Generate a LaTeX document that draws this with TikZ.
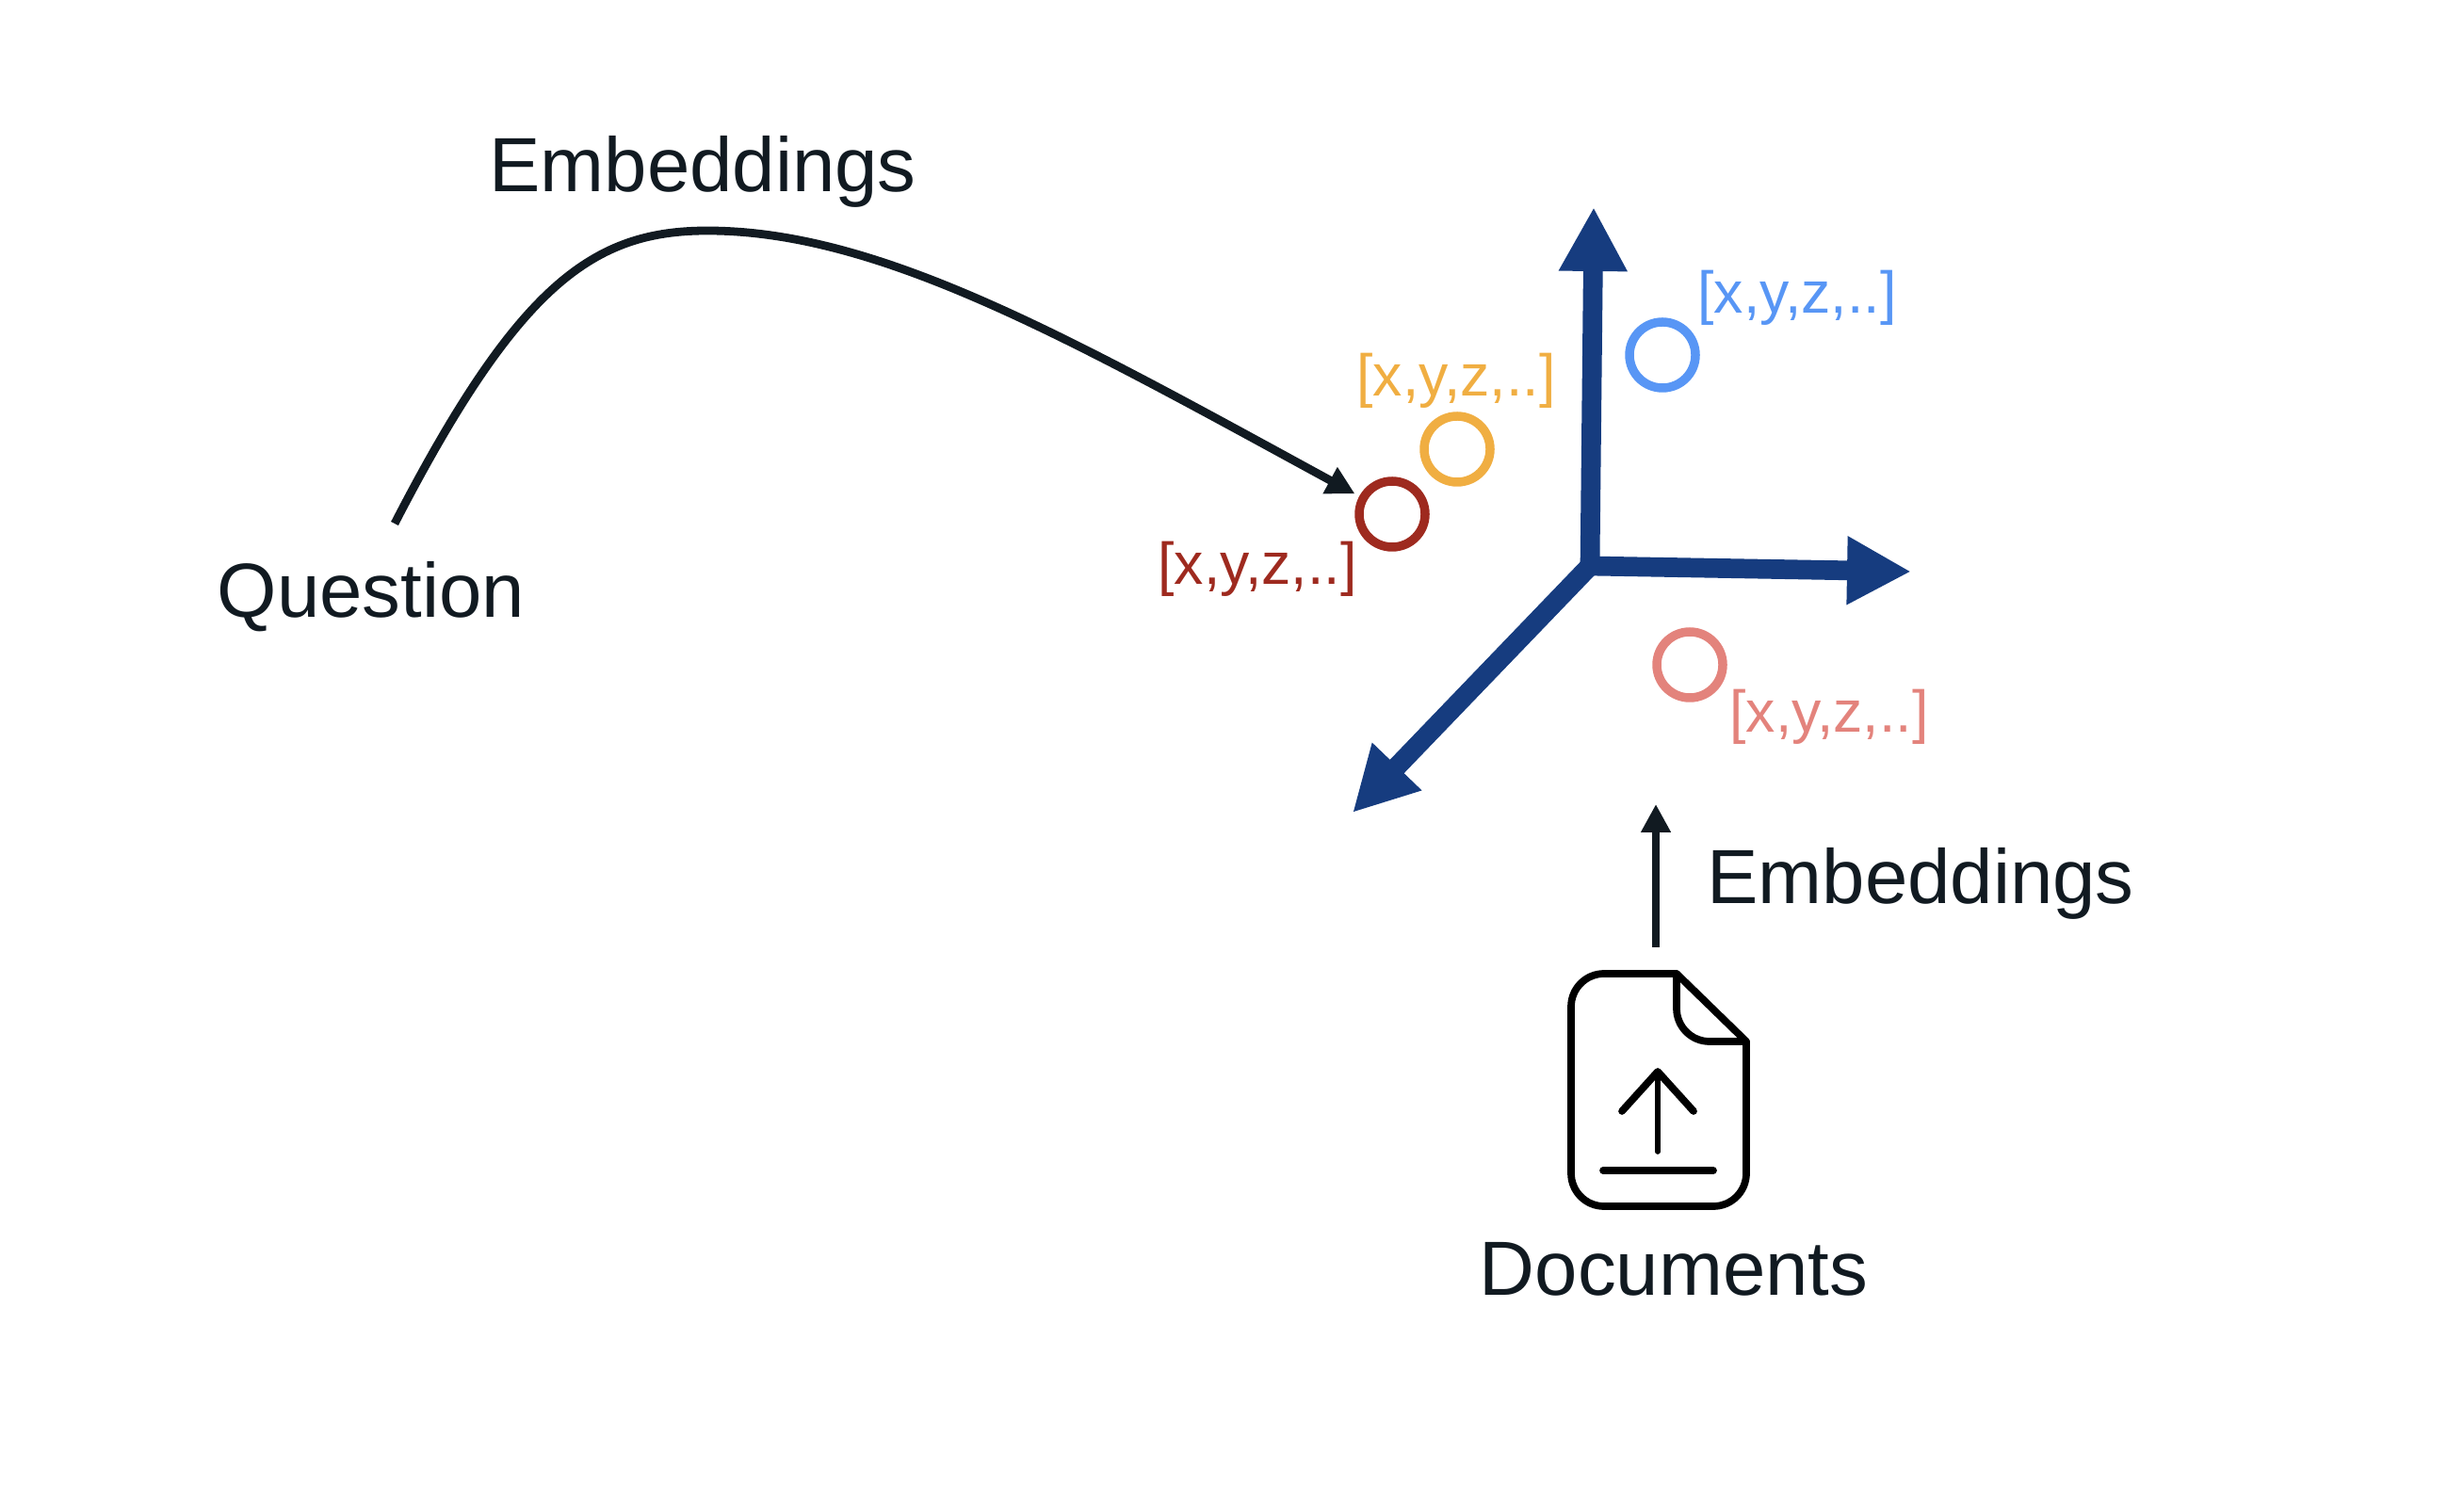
\documentclass[tikz,border=0pt]{standalone}
\usepackage{fontspec}
\setmainfont{Liberation Sans}
\usetikzlibrary{arrows.meta, positioning}
\definecolor{inkblack}{RGB}{17, 26, 33}
\definecolor{axisblue}{RGB}{22, 60, 127}
\definecolor{docblue}{RGB}{88, 150, 245}
\definecolor{docorange}{RGB}{240, 174, 66}
\definecolor{docred}{RGB}{158, 42, 31}
\definecolor{docpink}{RGB}{227, 131, 124}
\tikzset{
    biglabel/.style={text=inkblack, font=\fontsize{23.2}{28}\selectfont},
    veclabel/.style={font=\fontsize{17.8}{21}\selectfont, inner sep=0pt},
    vecdot/.style={draw, circle, line width=2.7pt, minimum size=0.7cm, inner sep=0pt},
    axisline/.style={draw=axisblue, line width=5.9pt, -{Triangle[length=0.68cm, width=0.68cm, fill=axisblue]}},
    inkarrow/.style={draw=inkblack, line width=2.5pt, -{Triangle[length=0.3cm, width=0.3cm, fill=inkblack]}},
    docline/.style={draw=black, line width=2.2pt, line join=round, line cap=round}
}
\begin{document}
\begin{tikzpicture}
    \useasboundingbox (0,0) rectangle (26.16,15.76);

    % Axes
    \coordinate (axisorigin) at (16.88,9.75);
    \coordinate (axisup) at (16.92,13.56);
    \coordinate (axisright) at (20.29,9.69);
    \coordinate (axisdown) at (14.36,7.13);
    \draw[axisline] (axisorigin) -- (axisup);
    \draw[axisline] (axisorigin) -- (axisright);
    \draw[axisline] (axisorigin) -- (axisdown);

    % Vectors
    \node[vecdot, draw=docblue] (blue) at (17.65,11.99) {};
    \node[vecdot, draw=docorange] (orange) at (15.47,10.99) {};
    \node[vecdot, draw=docred] (red) at (14.78,10.30) {};
    \node[vecdot, draw=docpink] (pink) at (17.94,8.70) {};

    \node[veclabel, text=docblue] (bluelabel) at (19.08,12.60) {[x,y,z,..]};
    \node[veclabel, text=docorange] (orangelabel) at (15.46,11.72) {[x,y,z,..]};
    \node[veclabel, text=docred] (redlabel) at (13.35,9.72) {[x,y,z,..]};
    \node[veclabel, text=docpink] (pinklabel) at (19.42,8.15) {[x,y,z,..]};

    % Question path
    \node[biglabel] (question) at (3.94,9.42) {Question};
    \node[biglabel] (embedquestion) at (7.46,13.94) {Embeddings};
    \coordinate (curvestart) at (4.19,10.20);
    \coordinate (curvetop) at (7.51,13.31);
    \draw[inkarrow, shorten >=1.5pt] (curvestart) .. controls (5.51,12.76) and (6.31,13.31) .. (curvetop)
        .. controls (9.34,13.31) and (11.35,12.17) .. (red);

    % Document path
    \node[biglabel] (documents) at (17.77,2.28) {Documents};
    \node[biglabel] (embeddoc) at (20.39,6.38) {Embeddings};
    \coordinate (docarrowstart) at (17.58,5.70);
    \coordinate (docarrowend) at (17.58,7.22);
    \draw[inkarrow] (docarrowstart) -- (docarrowend);

    % File icon
    \draw[docline] (18.54,4.70) [rounded corners=0.35cm] -- (18.54,2.95) -- (16.68,2.95)
        -- (16.68,5.42) [sharp corners] -- (17.80,5.42) -- cycle;
    \draw[docline, rounded corners=0.35cm] (17.80,5.42) -- (17.80,4.70) -- (18.54,4.70);
    \draw[docline, line width=1.6pt] (17.60,3.53) -- (17.60,4.38);
    \draw[docline] (17.22,3.96) -- (17.60,4.38) -- (17.98,3.96);
    \draw[docline] (17.02,3.33) -- (18.19,3.33);
\end{tikzpicture}
\end{document}
